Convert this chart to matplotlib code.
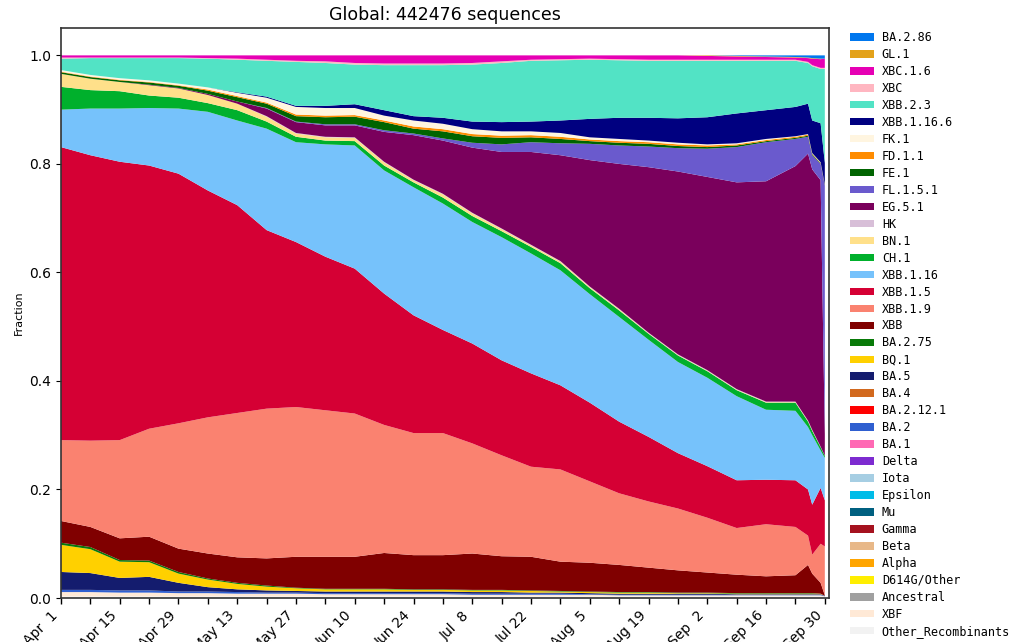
import matplotlib

matplotlib.use("Agg")
import matplotlib.pyplot as plt  # noqa: E402
import matplotlib.dates as mdates  # noqa: E402
import numpy as np  # noqa: E402
import pandas as pd  # noqa: E402

TITLE = "Global: 442476 sequences"

DATES = [
    "2023-04-01", "2023-04-08", "2023-04-15", "2023-04-22", "2023-04-29",
    "2023-05-06", "2023-05-13", "2023-05-20", "2023-05-27", "2023-06-03",
    "2023-06-10", "2023-06-17", "2023-06-24", "2023-07-01", "2023-07-08",
    "2023-07-15", "2023-07-22", "2023-07-29", "2023-08-05", "2023-08-12",
    "2023-08-19", "2023-08-26", "2023-09-02", "2023-09-09", "2023-09-16",
    "2023-09-23", "2023-09-26", "2023-09-27", "2023-09-29", "2023-09-30",
]

# lineage fractions per date (bottom of the stack first)
OTHER_RECOMBINANTS = [.003, .003, .003, .003, .003, .003, .003, .003, .003, .003, .003, .003, .003, .003, .003,
                      .003, .003, .003, .003, .003, .003, .003, .003, .003, .003, .003, .003, .003, .003, .002]
XBF = [.008, .008, .007, .007, .006, .006, .005, .005, .005, .004, .004, .004, .004, .004, .003,
       .003, .003, .003, .003, .002, .002, .002, .002, .002, .002, .002, .002, .002, .002, .001]
BA_2 = [.004, .004, .004, .004, .003, .003, .003, .002, .002, .002, .002, .002, .002, .002, .002,
        .002, .002, .002, .001, .001, .001, .001, .001, .001, .001, .001, .001, .001, .001, .001]
BA_5 = [.033, .031, .023, .025, .016, .008, .005, .004, .003, .003, .003, .003, .003, .003, .003,
        .003, .002, .002, .002, .002, .002, .002, .002, .001, .001, .001, .001, .001, .001, .000]
BQ_1 = [.050, .044, .030, .027, .017, .014, .010, .007, .005, .004, .004, .004, .003, .003, .003,
        .003, .003, .002, .002, .002, .002, .001, .001, .001, .001, .001, .001, .001, .001, .000]
BA_2_75 = [.004, .004, .003, .003, .003, .002, .002, .002, .001, .001, .001, .001, .001, .001, .001,
           .001, .001, .001, .001, .001, .001, .001, .001, .001, .001, .001, .001, .001, .000, .000]
XBB = [.040, .037, .040, .044, .043, .046, .047, .050, .057, .059, .059, .066, .063, .063, .067,
       .062, .062, .054, .053, .050, .045, .041, .037, .034, .031, .033, .052, .036, .020, .001]
XBB_1_9 = [.149, .159, .181, .199, .231, .251, .266, .276, .276, .270, .264, .236, .225, .225, .203,
           .186, .166, .170, .150, .132, .122, .114, .101, .086, .096, .089, .054, .035, .072, .090]
XBB_1_5 = [.540, .526, .513, .485, .460, .418, .383, .329, .304, .283, .267, .242, .217, .190, .184,
           .175, .172, .155, .145, .132, .119, .102, .095, .088, .082, .086, .085, .092, .103, .085]
XBB_1_16 = [.069, .086, .098, .106, .120, .145, .156, .187, .184, .207, .227, .227, .236, .233, .224,
            .227, .221, .212, .200, .193, .179, .168, .163, .155, .129, .128, .115, .128, .069, .078]
CH_1 = [.042, .034, .032, .023, .020, .016, .019, .013, .010, .007, .008, .009, .009, .011, .011,
        .011, .012, .013, .011, .012, .011, .012, .012, .011, .013, .015, .010, .008, .006, .004]
BN_1 = [.024, .021, .017, .019, .017, .015, .012, .009, .006, .006, .006, .006, .004, .006, .005,
        .004, .003, .003, .002, .002, .001, .001, .001, .001, .001, .001, .001, .001, .000, .000]
HK = [.000, .000, .000, .000, .000, .000, .000, .001, .001, .001, .001, .001, .001, .001, .001,
      .001, .001, .001, .001, .001, .001, .001, .001, .001, .001, .001, .001, .001, .001, .000]
EG_5_1 = [.000, .000, .000, .001, .001, .002, .004, .014, .020, .021, .022, .055, .082, .098, .120,
          .141, .171, .195, .233, .267, .305, .337, .356, .381, .406, .434, .492, .480, .491, .040]
FL_1_5_1 = [.000, .000, .000, .000, .000, .000, .000, .001, .001, .002, .002, .003, .003, .004, .009,
            .014, .018, .022, .030, .034, .038, .043, .052, .065, .072, .050, .031, .026, .030, .458]
FE_1 = [.003, .003, .003, .004, .004, .006, .008, .008, .010, .013, .014, .015, .009, .013, .012,
        .012, .009, .008, .005, .005, .005, .004, .003, .003, .002, .002, .002, .002, .001, .001]
FD_1_1 = [.001, .001, .001, .001, .001, .002, .002, .002, .003, .003, .003, .003, .004, .004, .004,
          .004, .004, .004, .003, .003, .003, .003, .003, .002, .002, .002, .002, .001, .001, .001]
FK_1 = [.003, .003, .003, .003, .003, .004, .006, .009, .014, .014, .013, .009, .011, .010, .009,
        .008, .007, .007, .004, .004, .003, .003, .002, .002, .002, .001, .001, .001, .001, .000]
XBB_1_16_6 = [.000, .000, .000, .000, .000, .000, .001, .002, .002, .004, .007, .010, .008, .011, .014,
              .017, .018, .023, .034, .039, .042, .045, .050, .055, .053, .054, .056, .060, .072, .040]
XBB_2_3 = [.021, .031, .037, .041, .047, .053, .060, .066, .081, .079, .073, .083, .094, .097, .105,
           .109, .112, .111, .109, .106, .105, .106, .104, .097, .091, .085, .075, .100, .100, .173]
XBC = [.002, .001, .001, .001, .001, .001, .002, .002, .002, .003, .003, .003, .003, .003, .003,
       .003, .002, .002, .002, .002, .002, .002, .002, .002, .002, .002, .002, .002, .002, .002]
XBC_1_6 = [.004, .004, .004, .004, .004, .005, .006, .008, .010, .011, .014, .015, .015, .015, .014,
           .011, .008, .007, .006, .007, .008, .008, .007, .006, .005, .004, .007, .012, .016, .017]
GL_1 = [.000, .000, .000, .000, .000, .000, .000, .000, .000, .000, .000, .000, .000, .000, .000,
        .000, .000, .000, .000, .000, .000, .000, .001, .001, .001, .001, .001, .001, .001, .000]
BA_2_86 = [.000, .000, .000, .000, .000, .000, .000, .000, .000, .000, .000, .000, .000, .000, .000,
           .000, .000, .000, .000, .000, .000, .000, .000, .001, .002, .003, .004, .005, .006, .006]

# (label, fractions, colour) from the bottom of the stack up;
# None marks lineages kept in the legend but absent over this window
STACK = [
    ("Other_Recombinants", OTHER_RECOMBINANTS, "#f2f2f2"),
    ("XBF", XBF, "#ffe9d6"),
    ("Ancestral", None, "#a0a0a0"),
    ("D614G/Other", None, "#ffee00"),
    ("Alpha", None, "#ffa500"),
    ("Beta", None, "#e8b888"),
    ("Gamma", None, "#a5121f"),
    ("Mu", None, "#006080"),
    ("Epsilon", None, "#00bce8"),
    ("Iota", None, "#a6cee3"),
    ("Delta", None, "#7d2bd0"),
    ("BA.1", None, "#ff69b4"),
    ("BA.2", BA_2, "#2f5fd0"),
    ("BA.2.12.1", None, "#ff0000"),
    ("BA.4", None, "#d2691e"),
    ("BA.5", BA_5, "#141c6e"),
    ("BQ.1", BQ_1, "#ffd000"),
    ("BA.2.75", BA_2_75, "#087a08"),
    ("XBB", XBB, "#800000"),
    ("XBB.1.9", XBB_1_9, "#fa8270"),
    ("XBB.1.5", XBB_1_5, "#d50034"),
    ("XBB.1.16", XBB_1_16, "#76c2fb"),
    ("CH.1", CH_1, "#00b02c"),
    ("BN.1", BN_1, "#ffe08a"),
    ("HK", HK, "#d8bfd8"),
    ("EG.5.1", EG_5_1, "#7a005c"),
    ("FL.1.5.1", FL_1_5_1, "#6a5acd"),
    ("FE.1", FE_1, "#006400"),
    ("FD.1.1", FD_1_1, "#ff8c00"),
    ("FK.1", FK_1, "#fff5e0"),
    ("XBB.1.16.6", XBB_1_16_6, "#000080"),
    ("XBB.2.3", XBB_2_3, "#52e3c5"),
    ("XBC", XBC, "#ffb6c1"),
    ("XBC.1.6", XBC_1_6, "#e600b4"),
    ("GL.1", GL_1, "#e3a21a"),
    ("BA.2.86", BA_2_86, "#0077ee"),
]


def main() -> None:
    dates = pd.to_datetime(DATES)
    zeros = [0.0] * len(DATES)
    labels = [name for name, _, _ in STACK]
    values = [vals if vals is not None else zeros for _, vals, _ in STACK]
    colors = [c for _, _, c in STACK]

    fig = plt.figure(figsize=(10.11, 6.42), dpi=100)
    ax = fig.add_axes([0.0603, 0.0685, 0.7597, 0.8875])
    ax.stackplot(dates, np.array(values), labels=labels, colors=colors, linewidth=0)

    ax.set_xlim(pd.Timestamp("2023-04-01"), pd.Timestamp("2023-10-01"))
    ax.set_ylim(0, 1.05)
    ax.set_ylabel("Fraction", fontsize=8)
    ax.set_title(TITLE, fontsize=12.5)

    start = pd.Timestamp("2023-04-01").to_pydatetime()
    ax.xaxis.set_major_locator(mdates.RRuleLocator(
        mdates.rrulewrapper(mdates.DAILY, interval=14, dtstart=start)))
    ax.xaxis.set_minor_locator(mdates.RRuleLocator(
        mdates.rrulewrapper(mdates.DAILY, interval=7, dtstart=start)))
    ax.xaxis.set_major_formatter(mdates.DateFormatter("%b %e"))
    ax.tick_params(axis="x", which="both", length=4, width=1)
    ax.tick_params(axis="both", which="major", labelsize=10)
    plt.setp(ax.get_xticklabels(), rotation=45, ha="right")
    ax.set_yticks([0.0, 0.2, 0.4, 0.6, 0.8, 1.0])
    for spine in ax.spines.values():
        spine.set_linewidth(1.2)
        spine.set_color("#333333")

    handles, labs = ax.get_legend_handles_labels()
    fig.legend(handles[::-1], labs[::-1], loc="upper left", bbox_to_anchor=(0.836, 0.959),
               frameon=False, prop={"family": "DejaVu Sans Mono", "size": 8.5},
               labelspacing=0.336, handlelength=2.0, handleheight=0.6, handletextpad=0.7,
               borderaxespad=0)

    fig.savefig("out.png", dpi=100)


if __name__ == "__main__":
    main()
